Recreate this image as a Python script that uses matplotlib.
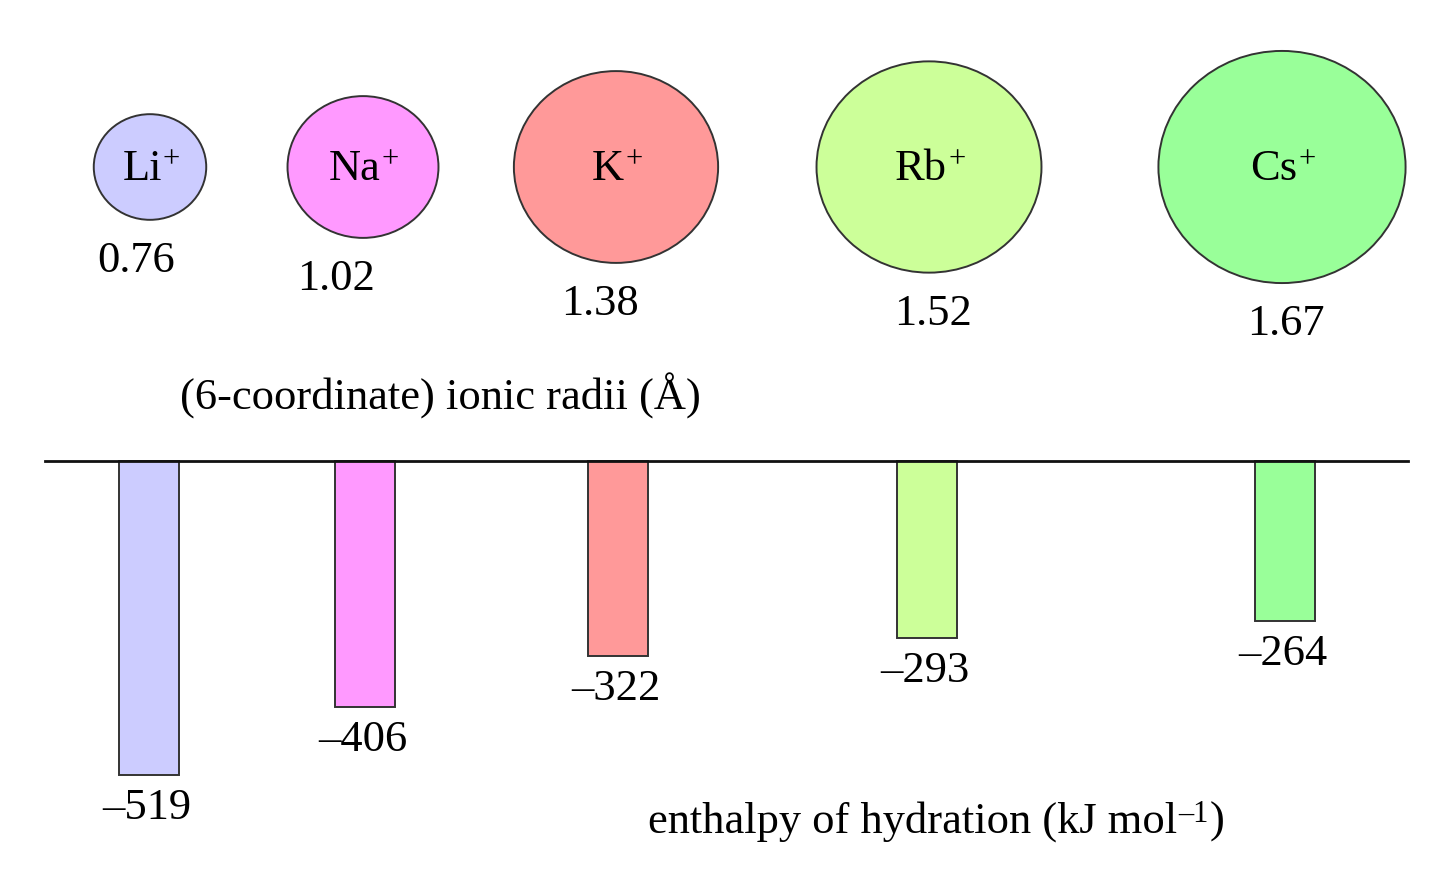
import matplotlib
matplotlib.use("Agg")
import matplotlib.pyplot as plt
from matplotlib.patches import Ellipse

plt.rcParams["font.family"] = ["Liberation Serif", "DejaVu Serif"]

# ── data ────────────────────────────────────────────────────────────────
ions = ["Li", "Na", "K", "Rb", "Cs"]
radii = [0.76, 1.02, 1.38, 1.52, 1.67]          # Å, 6-coordinate
enthalpy = [-519, -406, -322, -293, -264]       # kJ/mol
colors = ["#CCCCFF", "#FF99FF", "#FF9999", "#CCFF99", "#99FF99"]

# ── layout (pixel units of the 1456x874 canvas) ─────────────────────────
W, H = 1456, 874
circle_x = [150, 363, 616, 929, 1282]
circle_y = 167
label_dx = [-14, -27, -16, 4, 4]
bar_x = [149, 365, 618, 927, 1285]
bar_w = 60
PX_PER_A_W, PX_PER_A_H = 148, 139     # circle size per Å
PX_PER_KJ = 0.605                      # bar length per kJ/mol
ZERO_Y = 461
FS = 32
FS_SUP = 22

fig = plt.figure(figsize=(W / 100, H / 100), dpi=100)

# top panel: ionic radii
TOP_H = 440
ax_top = fig.add_axes([0, 1 - TOP_H / H, 1, TOP_H / H])
ax_top.set_xlim(0, W)
ax_top.set_ylim(TOP_H, 0)
ax_top.axis("off")

for name, r, c, cx, dx in zip(ions, radii, colors, circle_x, label_dx):
    w, h = r * PX_PER_A_W, r * PX_PER_A_H
    ax_top.add_patch(Ellipse((cx, circle_y), w, h, facecolor=c,
                             edgecolor="#333333", linewidth=1.4))
    t = ax_top.text(cx - 8, circle_y + 2, name, fontsize=FS,
                    ha="center", va="center")
    ax_top.annotate("+", xy=(1, 1), xycoords=t, xytext=(1, 4),
                    textcoords="offset pixels", fontsize=FS_SUP,
                    ha="left", va="top")
    ax_top.annotate(f"{r:.2f}", xy=(cx, circle_y + h / 2),
                    xytext=(dx, -41), textcoords="offset pixels",
                    fontsize=FS, ha="center", va="center")

ax_top.text(440, 396, "(6-coordinate) ionic radii (Å)",
            fontsize=FS, ha="center", va="center")

# bottom panel: hydration enthalpy
BOT_TOP = 440
ax_bar = fig.add_axes([0, 0, 1, (H - BOT_TOP) / H])
ax_bar.set_xlim(0, W)
ax_bar.set_ylim(-(H - ZERO_Y) / PX_PER_KJ, (ZERO_Y - BOT_TOP) / PX_PER_KJ)
ax_bar.axis("off")

ax_bar.bar(bar_x, enthalpy, width=bar_w, color=colors,
           edgecolor="#333333", linewidth=1.4, zorder=2)
ax_bar.plot([45, 1408], [0, 0], color="#111111", linewidth=2.0, zorder=3)

for x, v in zip(bar_x, enthalpy):
    ax_bar.annotate("\u2013%d" % abs(v), xy=(x, v), xytext=(-2, -33),
                    textcoords="offset pixels", fontsize=FS,
                    ha="center", va="center")

cap = ax_bar.text(648, ax_bar.get_ylim()[0] + (H - 822) / PX_PER_KJ,
                  "enthalpy of hydration (kJ mol", fontsize=FS,
                  ha="left", va="center")
sup = ax_bar.annotate("\u20131", xy=(1, 1), xycoords=cap, xytext=(1, 2),
                      textcoords="offset pixels", fontsize=FS_SUP,
                      ha="left", va="top")
ax_bar.annotate(")", xy=(1, 0.5), xycoords=(sup, cap), xytext=(1, 0),
                textcoords="offset pixels", fontsize=FS,
                ha="left", va="center")

fig.savefig("out.png", dpi=100)
